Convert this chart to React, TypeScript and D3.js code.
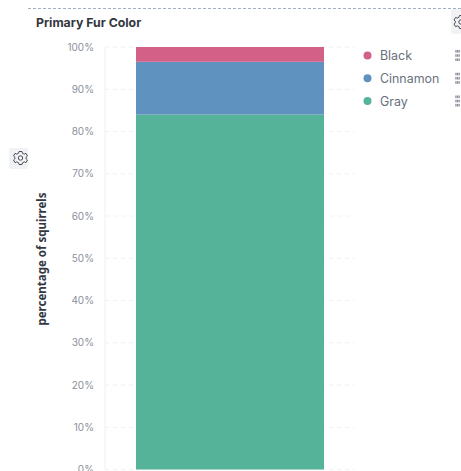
import React, { useEffect, useRef } from 'react';
import * as d3 from 'd3';

const categories = ['Squirrels'];
const seriesNames = ['Gray', 'Cinnamon', 'Black'];
const grayValues = [84.0];
const cinnamonValues = [12.5];
const blackValues = [3.5];
const legendOrder = ['Black', 'Cinnamon', 'Gray'];
const yTicks = [0, 10, 20, 30, 40, 50, 60, 70, 80, 90, 100];

const colors: Record<string, string> = {
  Black: '#d36086',
  Cinnamon: '#6092c0',
  Gray: '#54b399',
};

const width = 461;
const height = 471;
const font = 'Inter, "Noto Sans", sans-serif';

const App: React.FC = () => {
  const svgRef = useRef<SVGSVGElement>(null);

  useEffect(() => {
    const svg = d3.select(svgRef.current);
    svg.selectAll('*').remove();

    const x = d3.scaleBand().domain(categories).range([105, 355]).paddingInner(0).paddingOuter(0.165);
    const y = d3.scaleLinear().domain([0, 100]).range([469.5, 47]);

    // top dashed border of the panel
    svg.append('line')
      .attr('x1', 28).attr('x2', 461).attr('y1', 8.5).attr('y2', 8.5)
      .attr('stroke', '#a3aec4').attr('stroke-dasharray', '3,2');

    svg.append('text')
      .attr('x', 36).attr('y', 26.5)
      .attr('font-family', font).attr('font-size', 12.3).attr('font-weight', 700)
      .attr('fill', '#343741')
      .text('Primary Fur Color');

    // Grid
    svg.append('g').selectAll('line').data(yTicks).enter().append('line')
      .attr('x1', 105).attr('x2', 355)
      .attr('y1', d => y(d)).attr('y2', d => y(d))
      .attr('stroke', '#eef0f3').attr('stroke-dasharray', '4,4');

    svg.append('line')
      .attr('x1', 105).attr('x2', 105).attr('y1', 47).attr('y2', 469.5)
      .attr('stroke', '#eef0f3');

    // Tick labels
    svg.append('g').selectAll('text').data(yTicks).enter().append('text')
      .attr('x', 94).attr('y', d => y(d) + 3.5)
      .attr('text-anchor', 'end')
      .attr('font-family', font).attr('font-size', 10)
      .attr('fill', '#8a8f9a')
      .text(d => `${d}%`);

    svg.append('text')
      .attr('transform', 'translate(46,259) rotate(-90)')
      .attr('text-anchor', 'middle')
      .attr('font-family', '"Noto Sans", sans-serif').attr('font-size', 11.5).attr('font-weight', 700)
      .attr('fill', '#343741')
      .text('percentage of squirrels');

    // Stacked bars
    const rows = categories.map((c, i) => ({
      category: c,
      Gray: grayValues[i],
      Cinnamon: cinnamonValues[i],
      Black: blackValues[i],
    }));
    const stacked = d3.stack<any>().keys(seriesNames)(rows);

    svg.append('g').selectAll('g').data(stacked).enter().append('g')
      .attr('fill', d => colors[d.key])
      .selectAll('rect').data(d => d).enter().append('rect')
      .attr('x', d => x(d.data.category) || 0)
      .attr('width', x.bandwidth())
      .attr('y', d => y(d[1]))
      .attr('height', d => y(d[0]) - y(d[1]));

    // Legend
    const legendY = d3.scalePoint().domain(legendOrder).range([55.5, 101]);
    const legend = svg.append('g').selectAll('g').data(legendOrder).enter().append('g')
      .attr('transform', d => `translate(0,${legendY(d)})`);
    legend.append('circle')
      .attr('cx', 367.5).attr('r', 4)
      .attr('fill', d => colors[d]);
    legend.append('text')
      .attr('x', 380).attr('y', 4.5)
      .attr('font-family', font).attr('font-size', 12.4)
      .attr('fill', '#69707d')
      .text(d => d);
    legend.selectAll('rect.dot')
      .data([0, 1, 2].flatMap(r => [0, 1, 2].map(c => [r, c])))
      .enter().append('rect')
      .attr('class', 'dot')
      .attr('x', d => 455.3 + d[1] * 1.6)
      .attr('y', d => -5.5 + d[0] * 4.2)
      .attr('width', 1.3).attr('height', 2.6)
      .attr('fill', '#8a8f9a');

    // Gear buttons
    const gearPath = 'M-1.5,-6.5 L1.5,-6.5 L2,-4.7 L3.8,-3.9 L5.5,-4.6 L7,-2 L5.6,-0.8 L5.6,0.8 L7,2 L5.5,4.6 L3.8,3.9 L2,4.7 L1.5,6.5 L-1.5,6.5 L-2,4.7 L-3.8,3.9 L-5.5,4.6 L-7,2 L-5.6,0.8 L-5.6,-0.8 L-7,-2 L-5.5,-4.6 L-3.8,-3.9 L-2,-4.7 Z';
    const gear = (cx: number, cy: number, bx: number, by: number, bw: number, bh: number) => {
      svg.append('rect').attr('x', bx).attr('y', by).attr('width', bw).attr('height', bh)
        .attr('rx', 2).attr('fill', '#f1f2f4');
      const g = svg.append('g').attr('transform', `translate(${cx},${cy})`);
      g.append('path').attr('d', gearPath).attr('fill', 'none').attr('stroke', '#4a4f5a').attr('stroke-width', 1);
      g.append('circle').attr('r', 2.2).attr('fill', 'none').attr('stroke', '#4a4f5a').attr('stroke-width', 1);
    };
    gear(20.5, 158, 9, 148, 19, 21);
    gear(461, 22, 451, 9, 10, 25);
  }, []);

  return (
    <svg
      ref={svgRef}
      width={width}
      height={height}
      style={{ position: 'absolute', left: 0, top: 0, background: '#fff' }}
    />
  );
};

export default App;
